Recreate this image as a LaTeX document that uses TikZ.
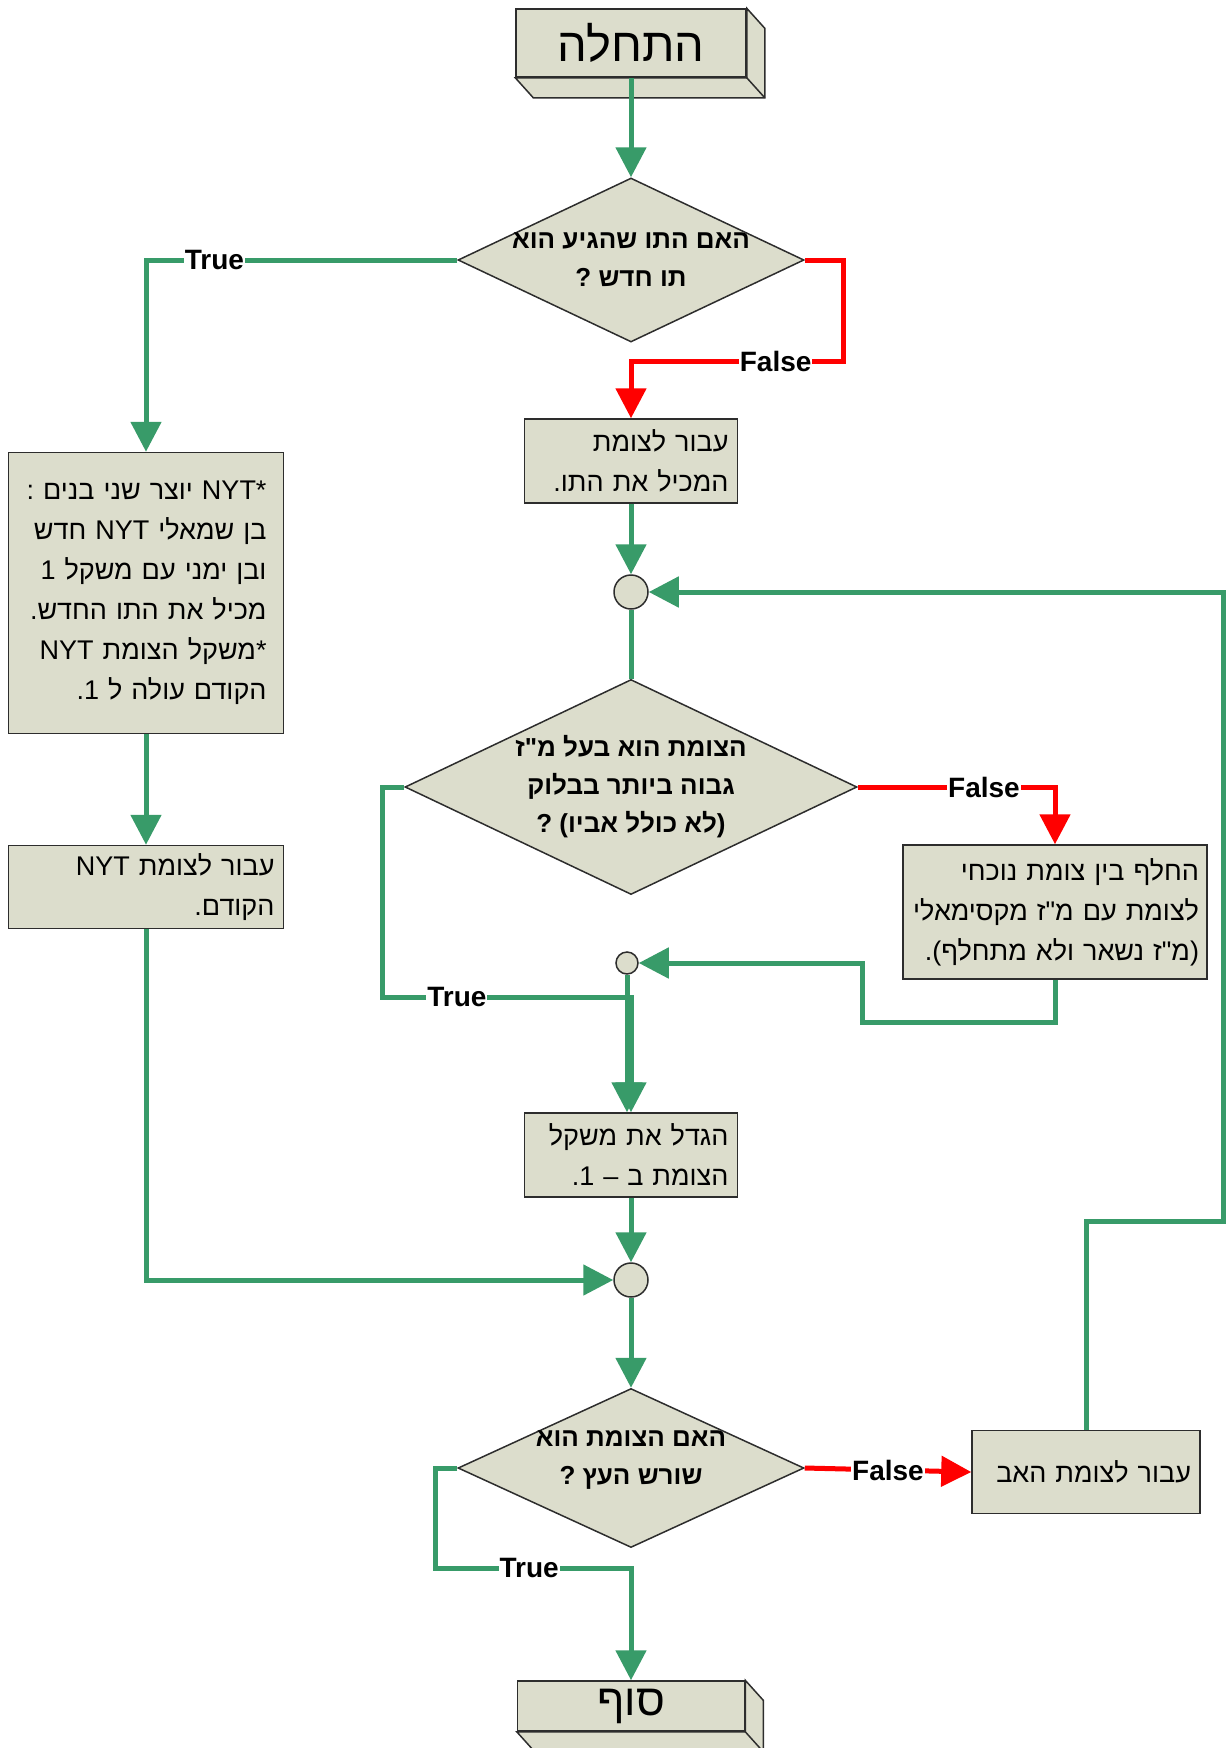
\documentclass[tikz,border=0pt]{standalone}
\usepackage{fontspec}
\setmainfont{Liberation Sans}
\newfontfamily\hebfont[Script=Hebrew,Ligatures=TeXOff]{Liberation Sans}
\TeXXeTstate=1
\usetikzlibrary{arrows.meta,calc,shapes.geometric}
\definecolor{boxfill}{RGB}{220,221,204}
\definecolor{flowgreen}{RGB}{56,155,105}
\definecolor{flowred}{RGB}{255,0,0}
\definecolor{edgegray}{RGB}{45,45,45}
\def\rl#1{\leavevmode\hbox{\beginR #1\endR}}
\def\lr#1{\beginL #1\endL}
\def\slab(#1){\draw[slabface] (#1.south west) -- ++(18,20) -- ($(#1.south east)+(18,20)$) -- ($(#1.north east)+(18,20)$) -- (#1.north east) -- (#1.south east) -- cycle; \draw[slabface] (#1.south east) -- ++(18,20);}
\tikzset{
  procbox/.style={rectangle, draw=edgegray, fill=boxfill, line width=1.5pt, inner xsep=9pt, inner ysep=0pt, align=right, font=\hebfont\fontsize{27}{40}\selectfont},
  termbox/.style={rectangle, draw=edgegray, fill=boxfill, line width=1.5pt, inner sep=0pt},
  slabface/.style={draw=edgegray, fill=boxfill, line width=1.5pt},
  decision/.style={diamond, draw=edgegray, fill=boxfill, line width=1.5pt, inner sep=0pt},
  dectext/.style={align=center, font=\hebfont\bfseries\fontsize{26}{38}\selectfont},
  junction/.style={circle, draw=edgegray, fill=boxfill, line width=1.5pt, inner sep=0pt},
  greenline/.style={draw=flowgreen, line width=5pt},
  redline/.style={draw=flowred, line width=5pt},
  flowtip/.style={-{Triangle[width=30pt,length=30pt]}},
  lbl/.style={fill=white, inner sep=1pt, text=black, font=\bfseries\fontsize{28}{30}\selectfont}
}
\begin{document}
\begin{tikzpicture}[x=1pt,y=-1pt]
			%%%%% START %%%%%
			\useasboundingbox (0,0) rectangle (1227,1748);
			
			\node[termbox, minimum width=230pt, minimum height=68pt, font=\hebfont\fontsize{47}{50}\selectfont] (start) at (631,43) {\rl{התחלה}};
			\slab(start)
			
			\node[decision, minimum width=346pt, minimum height=164pt] (dec1) at (631,260) {};
			\node[dectext] (dec1txt) at (dec1) {\rl{האם התו שהגיע הוא}\\\rl{תו חדש ?}};
			
			\node[procbox, text width=195pt, minimum height=84pt] (seek) at (631,461) {\rl{עבור לצומת}\\\rl{המכיל את התו.}};
			\node[procbox, text width=241pt, inner xsep=17pt, minimum height=281pt] (nyt) at (146,593)
				{\rl{*\lr{NYT} יוצר שני בנים :}\\\rl{בן שמאלי \lr{NYT} חדש}\\\rl{ובן ימני עם משקל 1}\\\rl{מכיל את התו החדש.}\\\rl{*משקל הצומת \lr{NYT}}\\\rl{הקודם עולה ל 1\kern0pt.}};
			\node[procbox, text width=257pt, minimum height=83pt] (nytback) at (146,887) {\rl{עבור לצומת \lr{NYT}}\\\rl{הקודם.}};
			
			\node[junction, minimum size=34pt] (j1) at (631,592) {};
			
			\node[decision, minimum width=452pt, minimum height=215pt] (dec2) at (631,787) {};
			\node[dectext] (dec2txt) at (dec2) {\rl{הצומת הוא בעל מ"ז}\\\rl{גבוה ביותר בבלוק}\\\rl{(לא כולל אביו) ?}};
			
			\node[procbox, text width=288pt, inner xsep=8pt, minimum height=134pt] (swap) at (1055,912) {\rl{החלף בין צומת נוכחי}\\\rl{לצומת עם מ"ז מקסימאלי}\\\rl{(מ"ז נשאר ולא מתחלף).}};
			\node[junction, minimum size=22pt] (j2) at (627,963) {};
			
			\node[procbox, text width=195pt, minimum height=84pt] (inc) at (631,1155) {\rl{הגדל את משקל}\\\rl{הצומת ב – 1\kern0pt.}};
			\node[junction, minimum size=34pt] (j3) at (631,1280) {};
			
			\node[decision, minimum width=346pt, minimum height=159pt] (dec3) at (631,1468) {};
			\node[dectext] (dec3txt) at ($(dec3)+(0,-8)$) {\rl{האם הצומת הוא}\\\rl{שורש העץ ?}};
			\node[procbox, text width=210pt, minimum height=83pt] (parent) at (1086,1472) {\rl{עבור לצומת האב}};
			
			\node[termbox, minimum width=227pt, minimum height=50pt, font=\hebfont\fontsize{44}{46}\selectfont] (finish) at (631,1706) {\rl{סוף}};
			\slab(finish)
			
			% connectors
			\draw[greenline,flowtip] (start.south) -- (dec1.north);
			\draw[greenline,flowtip] (dec1.west) -| node[lbl,pos=0.39] {True} (nyt.north);
			\draw[redline,flowtip] (dec1.east) -- ++(39,0) -- ++(0,101) -| node[lbl,pos=0.16] {False} (seek.north);
			\draw[greenline,flowtip] (seek.south) -- (j1.north);
			\draw[greenline] (j1.south) -- (dec2.north);
			\draw[redline,flowtip] (dec2.east) -| node[lbl,pos=0.32] {False} (swap.north);
			\draw[greenline,flowtip] (swap.south) -- ++(0,43) -- ++(-193,0) |- (j2.east);
			\draw[greenline,flowtip] (dec2.west) -- ++(-22,0) -- ++(0,210) -| node[lbl,pos=0.15] {True} (inc.north);
			\draw[greenline,flowtip] (j2.south) -- (j2.south |- inc.north);
			\draw[greenline,flowtip] (inc.south) -- (j3.north);
			\draw[greenline,flowtip] (nyt.south) -- (nytback.north);
			\draw[greenline,flowtip] (nytback.south) |- (j3.west);
			\draw[greenline,flowtip] (j3.south) -- (dec3.north);
			\draw[redline,flowtip] (dec3.east) -- node[lbl] {False} (parent.west);
			\draw[greenline,flowtip] (parent.north) -- ++(0,-208) -- ++(137,0) |- (j1.east);
			\draw[greenline,flowtip] (dec3.west) -- ++(-22,0) -- ++(0,100) -| node[lbl,pos=0.24] {True} (finish.north);
			
			%%%%% END %%%%%
\end{tikzpicture}
\end{document}
